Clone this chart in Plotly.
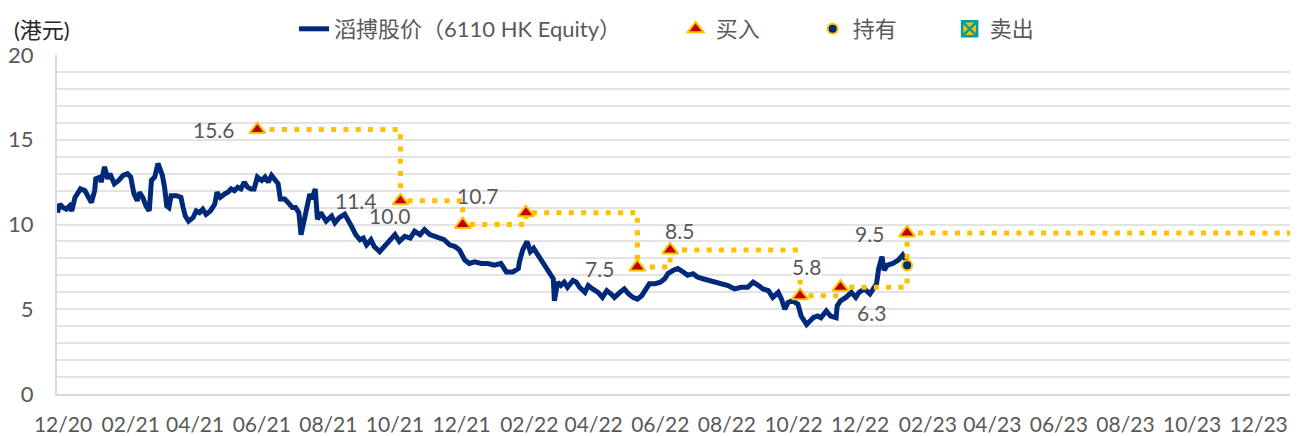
import plotly.graph_objects as go

# ---------------- data ----------------
price_dates = [
    "2020-11-26", "2020-11-28", "2020-12-01", "2020-12-04", "2020-12-07", "2020-12-09", "2020-12-12",
    "2020-12-17", "2020-12-21", "2020-12-24", "2020-12-27", "2020-12-30", "2020-12-31", "2021-01-04",
    "2021-01-05", "2021-01-08", "2021-01-11", "2021-01-13", "2021-01-17", "2021-01-21", "2021-01-25",
    "2021-01-29", "2021-02-01", "2021-02-04", "2021-02-07", "2021-02-09", "2021-02-12", "2021-02-15",
    "2021-02-18", "2021-02-20", "2021-02-23", "2021-02-26", "2021-02-28", "2021-03-02", "2021-03-04",
    "2021-03-06", "2021-03-08", "2021-03-10", "2021-03-15", "2021-03-19", "2021-03-21", "2021-03-23",
    "2021-03-26", "2021-03-30", "2021-04-02", "2021-04-05", "2021-04-08", "2021-04-11", "2021-04-15",
    "2021-04-19", "2021-04-21", "2021-04-24", "2021-04-28", "2021-05-01", "2021-05-04", "2021-05-07",
    "2021-05-10", "2021-05-13", "2021-05-16", "2021-05-19", "2021-05-22", "2021-05-25", "2021-05-28",
    "2021-06-01", "2021-06-04", "2021-06-07", "2021-06-10", "2021-06-13", "2021-06-16", "2021-06-18",
    "2021-06-22", "2021-06-25", "2021-06-29", "2021-07-02", "2021-07-05", "2021-07-07", "2021-07-09",
    "2021-07-11", "2021-07-15", "2021-07-17", "2021-07-20", "2021-07-22", "2021-07-25", "2021-07-30",
    "2021-08-04", "2021-08-07", "2021-08-11", "2021-08-16", "2021-08-20", "2021-08-23", "2021-08-26",
    "2021-08-30", "2021-09-02", "2021-09-05", "2021-09-09", "2021-09-12", "2021-09-17", "2021-09-21",
    "2021-09-26", "2021-10-01", "2021-10-05", "2021-10-10", "2021-10-15", "2021-10-19", "2021-10-24",
    "2021-10-28", "2021-11-02", "2021-11-06", "2021-11-11", "2021-11-15", "2021-11-20", "2021-11-25",
    "2021-11-29", "2021-12-04", "2021-12-08", "2021-12-13", "2021-12-19", "2021-12-25", "2021-12-31",
    "2022-01-06", "2022-01-11", "2022-01-17", "2022-01-22", "2022-01-23", "2022-01-26", "2022-01-30",
    "2022-02-02", "2022-02-05", "2022-02-08", "2022-02-11", "2022-02-14", "2022-02-17", "2022-02-20",
    "2022-02-23", "2022-02-24", "2022-02-27", "2022-03-02", "2022-03-05", "2022-03-08", "2022-03-13",
    "2022-03-16", "2022-03-19", "2022-03-24", "2022-03-27", "2022-03-31", "2022-04-05", "2022-04-09",
    "2022-04-13", "2022-04-17", "2022-04-20", "2022-04-25", "2022-04-29", "2022-05-03", "2022-05-07",
    "2022-05-11", "2022-05-15", "2022-05-19", "2022-05-22", "2022-05-27", "2022-06-01", "2022-06-05",
    "2022-06-08", "2022-06-13", "2022-06-17", "2022-06-22", "2022-06-26", "2022-07-01", "2022-07-05",
    "2022-07-10", "2022-07-15", "2022-07-21", "2022-07-27", "2022-08-02", "2022-08-08", "2022-08-14",
    "2022-08-20", "2022-08-25", "2022-08-30", "2022-09-03", "2022-09-08", "2022-09-12", "2022-09-17",
    "2022-09-20", "2022-09-23", "2022-09-26", "2022-09-30", "2022-10-05", "2022-10-08", "2022-10-13",
    "2022-10-16", "2022-10-19", "2022-10-23", "2022-10-26", "2022-10-31", "2022-11-04", "2022-11-09",
    "2022-11-10", "2022-11-13", "2022-11-18", "2022-11-23", "2022-11-27", "2022-11-30", "2022-12-05",
    "2022-12-10", "2022-12-13", "2022-12-16", "2022-12-18", "2022-12-21", "2022-12-23", "2022-12-26",
    "2022-12-31", "2023-01-05", "2023-01-09", "2023-01-12", "2023-01-13",
]
price_values = [
    10.7, 11.2, 11.0, 10.9, 11.1, 10.8, 11.6,
    12.1, 12.0, 11.6, 11.3, 12.0, 12.7, 12.8,
    12.5, 13.4, 12.7, 13.0, 12.4, 12.6, 12.9,
    13.0, 12.8, 11.8, 11.4, 11.9, 11.6, 11.1,
    10.8, 12.6, 12.8, 13.6, 13.3, 12.9, 12.2,
    11.1, 11.0, 11.7, 11.7, 11.6, 11.0, 10.5,
    10.2, 10.4, 10.8, 10.7, 10.9, 10.6, 10.8,
    11.2, 11.9, 11.6, 11.8, 11.9, 12.1, 12.0,
    12.2, 12.1, 12.5, 12.2, 12.1, 12.1, 12.8,
    12.6, 12.8, 12.5, 12.9, 12.7, 12.4, 11.5,
    11.5, 11.3, 11.0, 11.0, 10.7, 9.4, 10.1,
    10.7, 11.8, 11.5, 12.1, 10.3, 10.7, 10.2,
    10.5, 10.1, 10.4, 10.6, 10.2, 9.8, 9.4,
    9.1, 9.2, 8.8, 9.1, 8.7, 8.4, 8.7,
    9.0, 9.4, 9.0, 9.3, 9.2, 9.6, 9.4,
    9.7, 9.4, 9.3, 9.2, 9.1, 8.8, 8.7,
    8.5, 7.9, 7.7, 7.8, 7.7, 7.7, 7.6,
    7.7, 7.2, 7.2, 7.4, 7.8, 8.5, 9.0,
    8.4, 8.6, 8.3, 8.0, 7.8, 7.4, 7.2,
    6.8, 5.5, 6.6, 6.4, 6.6, 6.3, 6.7,
    6.6, 6.3, 6.0, 6.4, 6.2, 6.0, 5.7,
    6.1, 5.9, 5.7, 6.0, 6.2, 5.9, 5.7,
    5.6, 5.8, 6.2, 6.5, 6.5, 6.6, 6.8,
    7.1, 7.3, 7.4, 7.2, 7.0, 7.1, 6.9,
    6.8, 6.7, 6.6, 6.5, 6.4, 6.2, 6.3,
    6.3, 6.6, 6.4, 6.2, 6.1, 5.7, 6.0,
    5.6, 5.0, 5.4, 5.5, 5.3, 4.6, 4.1,
    4.3, 4.5, 4.6, 4.5, 4.9, 4.6, 4.5,
    5.2, 5.5, 5.7, 6.0, 5.7, 6.0, 6.2,
    5.9, 6.2, 6.5, 7.4, 8.1, 7.3, 7.6,
    7.7, 7.9, 8.2, 7.9, 7.6,
]

buy_dates = ["2021-05-28", "2021-10-06", "2021-12-02", "2022-01-29", "2022-05-11",
             "2022-06-10", "2022-10-07", "2022-11-13", "2023-01-13"]
buy_prices = [15.6, 11.4, 10.0, 10.7, 7.5, 8.5, 5.8, 6.3, 9.5]
buy_labels = ["15.6", "11.4", "10.0", "10.7", "7.5", "8.5", "5.8", "6.3", "9.5"]

hold_dates = ["2023-01-13"]
hold_prices = [7.6]

axis_start = "2020-11-25 12:00"
axis_end = "2024-01-06"

series_names = ["滔搏股价（6110 HK Equity）", "买入", "持有", "卖出"]
unit_label = "(港元)"

# ---------------- styles ----------------
NAVY = "#00297A"
GOLD = "#FFC000"
RED = "#C00000"
TEAL = "#00A0A0"
GREY_TXT = "#595959"
FONT = "Lato, Noto Sans CJK SC, sans-serif"
label_shifts = [(-43, 0), (-44, 0), (-73, 9), (-48, 17), (-38, -2),
                (9, 19), (6, 29), (31, -25), (-38, -1)]
label_bg = ["rgba(0,0,0,0)"] * 6 + ["white"] + ["rgba(0,0,0,0)"] * 2

fig = go.Figure()

fig.add_trace(go.Scatter(
    x=price_dates, y=price_values, mode="lines", name=series_names[0],
    line=dict(color=NAVY, width=5), legend="legend",
))

fig.add_trace(go.Scatter(
    x=buy_dates + [axis_end], y=buy_prices + [buy_prices[-1]], mode="lines",
    line=dict(color=GOLD, width=5, dash="5px,7.3px", shape="hv"),
    showlegend=False,
))

fig.add_trace(go.Scatter(
    x=buy_dates, y=buy_prices, mode="markers", name=series_names[1],
    marker=dict(symbol="triangle-up", size=14, color=RED, line=dict(color=GOLD, width=2)),
    legend="legend2",
))

fig.add_trace(go.Scatter(
    x=hold_dates, y=hold_prices, mode="markers", name=series_names[2],
    marker=dict(symbol="circle", size=10, color=NAVY, line=dict(color=GOLD, width=2)),
    legend="legend2",
))

fig.add_trace(go.Scatter(
    x=[None], y=[None], mode="markers", name=series_names[3],
    marker=dict(symbol="square-x", size=15, color=GOLD, line=dict(color=TEAL, width=2.5)),
    legend="legend2",
))

for d, p, t, (dx, dy), bg in zip(buy_dates, buy_prices, buy_labels, label_shifts, label_bg):
    fig.add_annotation(
        x=d, y=p, text=t, showarrow=False, xshift=dx, yshift=dy,
        font=dict(family=FONT, size=21, color=GREY_TXT), bgcolor=bg, borderpad=0,
    )

fig.add_annotation(
    xref="paper", yref="paper", x=0, y=1.076, xshift=-45, xanchor="left", yanchor="middle",
    text=unit_label, showarrow=False, font=dict(family=FONT, size=22, color="#262626"),
)

# the page places the plot 8px from the top-left corner, so the figure is 8px smaller
fig.update_layout(
    width=1290, height=428,
    margin=dict(l=49, r=0, t=46, b=42),
    plot_bgcolor="white", paper_bgcolor="white",
    hovermode=False,
    font=dict(family=FONT, size=20, color=GREY_TXT),
    legend=dict(
        orientation="h", x=0.191, xanchor="left", y=1.076, yanchor="middle",
        font=dict(family=FONT, size=22, color=GREY_TXT), bgcolor="rgba(0,0,0,0)",
    ),
    legend2=dict(
        orientation="h", x=0.4985, xanchor="left", y=1.076, yanchor="middle",
        font=dict(family=FONT, size=22, color=GREY_TXT), bgcolor="rgba(0,0,0,0)",
        entrywidth=92, entrywidthmode="pixels",
    ),
    xaxis=dict(
        type="date", range=[axis_start, axis_end],
        tick0="2020-12-01", dtick="M2", tickformat="%m/%y",
        showgrid=False, showline=True, linecolor="#D9D9D9", linewidth=2,
        ticks="", zeroline=False, ticklabelstandoff=11,
        tickfont=dict(family=FONT, size=21, color=GREY_TXT),
    ),
    yaxis=dict(
        range=[0, 20], dtick=5, tick0=0,
        showgrid=True, gridcolor="#E3E3E3", gridwidth=1.5,
        minor=dict(dtick=1, showgrid=True, gridcolor="#E3E3E3", gridwidth=1.5),
        showline=True, linecolor="#D9D9D9", linewidth=2, zeroline=False,
        ticks="", ticklabelstandoff=17,
        tickfont=dict(family=FONT, size=22, color=GREY_TXT),
    ),
)

fig.write_html("out.html")
